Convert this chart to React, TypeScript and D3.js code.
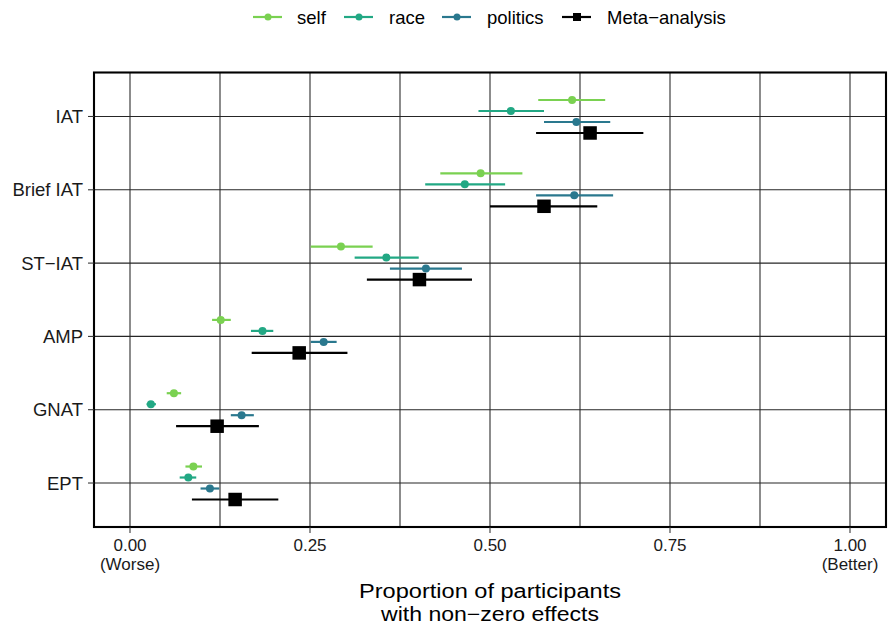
import React from "react";
import * as d3 from "d3";

const categories = ["IAT", "Brief IAT", "ST\u2212IAT", "AMP", "GNAT", "EPT"];
const seriesNames = ["self", "race", "politics", "Meta\u2212analysis"];
const seriesColors = ["#7AD151", "#22A884", "#2A788E", "#000000"];

// estimates per category, order: IAT, Brief IAT, ST-IAT, AMP, GNAT, EPT
const selfEst = [0.614, 0.487, 0.293, 0.126, 0.061, 0.088];
const selfLo = [0.567, 0.431, 0.251, 0.114, 0.051, 0.077];
const selfHi = [0.660, 0.545, 0.337, 0.140, 0.071, 0.100];

const raceEst = [0.529, 0.465, 0.356, 0.184, 0.029, 0.081];
const raceLo = [0.484, 0.410, 0.312, 0.168, 0.023, 0.069];
const raceHi = [0.575, 0.521, 0.401, 0.199, 0.036, 0.092];

const politicsEst = [0.620, 0.617, 0.411, 0.269, 0.155, 0.111];
const politicsLo = [0.575, 0.564, 0.361, 0.251, 0.140, 0.098];
const politicsHi = [0.667, 0.671, 0.461, 0.287, 0.172, 0.124];

const metaEst = [0.639, 0.575, 0.402, 0.235, 0.121, 0.146];
const metaLo = [0.564, 0.500, 0.329, 0.169, 0.064, 0.086];
const metaHi = [0.713, 0.649, 0.475, 0.302, 0.179, 0.206];

const xMajor = [0, 0.25, 0.5, 0.75, 1];
const xMinor = [0.125, 0.375, 0.625, 0.875];
const xTickLabels = ["0.00\n(Worse)", "0.25", "0.50", "0.75", "1.00\n(Better)"];
const xTitle = ["Proportion of participants", "with non\u2212zero effects"];

const W = 888;
const H = 628;
const panel = { left: 94, right: 886, top: 72.5, bottom: 527 };
const FONT = "'Liberation Sans', Arial, Helvetica, sans-serif";

export default function App() {
  const x = d3.scaleLinear().domain([-0.05, 1.05]).range([panel.left, panel.right]);
  const y = d3
    .scalePoint<string>()
    .domain(categories)
    .range([panel.top, panel.bottom])
    .padding(0.6);
  const step = y.step();
  const offsets = [-0.225, -0.075, 0.075, 0.225].map((o) => o * step);

  const series = [
    { est: selfEst, lo: selfLo, hi: selfHi },
    { est: raceEst, lo: raceLo, hi: raceHi },
    { est: politicsEst, lo: politicsLo, hi: politicsHi },
    { est: metaEst, lo: metaLo, hi: metaHi },
  ];

  const gridColor = "#262626";
  const legendY = 17;
  const legendItems = [
    { gx: 253, tx: 297 },
    { gx: 344, tx: 389 },
    { gx: 442, tx: 487 },
    { gx: 562, tx: 607 },
  ];
  const titleWidths = [262, 218];

  return (
    <svg
      width={W}
      height={H}
      style={{ position: "absolute", left: 0, top: 0, background: "#fff" }}
      fontFamily={FONT}
    >
      <rect x={0} y={0} width={W} height={H} fill="#fff" />
      {/* grid */}
      {[...xMinor, ...xMajor].map((v, i) => (
        <line
          key={"gx" + i}
          x1={x(v)}
          x2={x(v)}
          y1={panel.top}
          y2={panel.bottom}
          stroke={gridColor}
          strokeWidth={1.07}
        />
      ))}
      {categories.map((c) => (
        <line
          key={"gy" + c}
          x1={panel.left}
          x2={panel.right}
          y1={y(c)}
          y2={y(c)}
          stroke={gridColor}
          strokeWidth={1.07}
        />
      ))}
      {/* error bars */}
      {series.map((s, si) =>
        categories.map((c, ci) => {
          const yy = (y(c) as number) + offsets[si];
          return (
            <line
              key={`e${si}-${ci}`}
              x1={x(s.lo[ci])}
              x2={x(s.hi[ci])}
              y1={yy}
              y2={yy}
              stroke={seriesColors[si]}
              strokeWidth={2.2}
            />
          );
        })
      )}
      {/* points */}
      {series.map((s, si) =>
        categories.map((c, ci) => {
          const yy = (y(c) as number) + offsets[si];
          const xx = x(s.est[ci]);
          if (si === 3) {
            const sz = 13.5;
            return (
              <rect
                key={`p${si}-${ci}`}
                x={xx - sz / 2}
                y={yy - sz / 2}
                width={sz}
                height={sz}
                fill="#000"
              />
            );
          }
          return <circle key={`p${si}-${ci}`} cx={xx} cy={yy} r={4} fill={seriesColors[si]} />;
        })
      )}
      {/* panel border */}
      <rect
        x={panel.left}
        y={panel.top}
        width={panel.right - panel.left}
        height={panel.bottom - panel.top}
        fill="none"
        stroke="#000"
        strokeWidth={2.1}
      />
      {/* y axis */}
      {categories.map((c) => (
        <g key={"yt" + c}>
          <line x1={panel.left - 6} x2={panel.left} y1={y(c)} y2={y(c)} stroke="#333" strokeWidth={1.07} />
          <text
            x={panel.left - 11}
            y={(y(c) as number) + 6.5}
            textAnchor="end"
            fontSize={18.5}
            fill="#1a1a1a"
          >
            {c}
          </text>
        </g>
      ))}
      {/* x axis */}
      {xMajor.map((v, i) => (
        <g key={"xt" + i}>
          <line x1={x(v)} x2={x(v)} y1={panel.bottom} y2={panel.bottom + 6} stroke="#333" strokeWidth={1.07} />
          {xTickLabels[i].split("\n").map((ln, li) => (
            <text
              key={li}
              x={x(v)}
              y={551 + li * 18.5}
              textAnchor="middle"
              fontSize={17}
              fill="#1a1a1a"
            >
              {ln}
            </text>
          ))}
        </g>
      ))}
      {xTitle.map((ln, li) => (
        <text
          key={"xtitle" + li}
          x={(panel.left + panel.right) / 2}
          y={598 + li * 22.5}
          textAnchor="middle"
          fontSize={20}
          textLength={titleWidths[li]}
          lengthAdjust="spacingAndGlyphs"
          fill="#000"
        >
          {ln}
        </text>
      ))}
      {/* legend */}
      {seriesNames.map((n, i) => {
        const it = legendItems[i];
        const cx = it.gx + 15;
        return (
          <g key={"lg" + i}>
            <line x1={it.gx} x2={it.gx + 29} y1={legendY} y2={legendY} stroke={seriesColors[i]} strokeWidth={2.2} />
            {i === 3 ? (
              <rect x={cx - 4} y={legendY - 4} width={8} height={8} fill="#000" />
            ) : (
              <circle cx={cx} cy={legendY} r={3.5} fill={seriesColors[i]} />
            )}
            <text x={it.tx} y={legendY + 6.5} fontSize={18.5} fill="#000">
              {n}
            </text>
          </g>
        );
      })}
    </svg>
  );
}
